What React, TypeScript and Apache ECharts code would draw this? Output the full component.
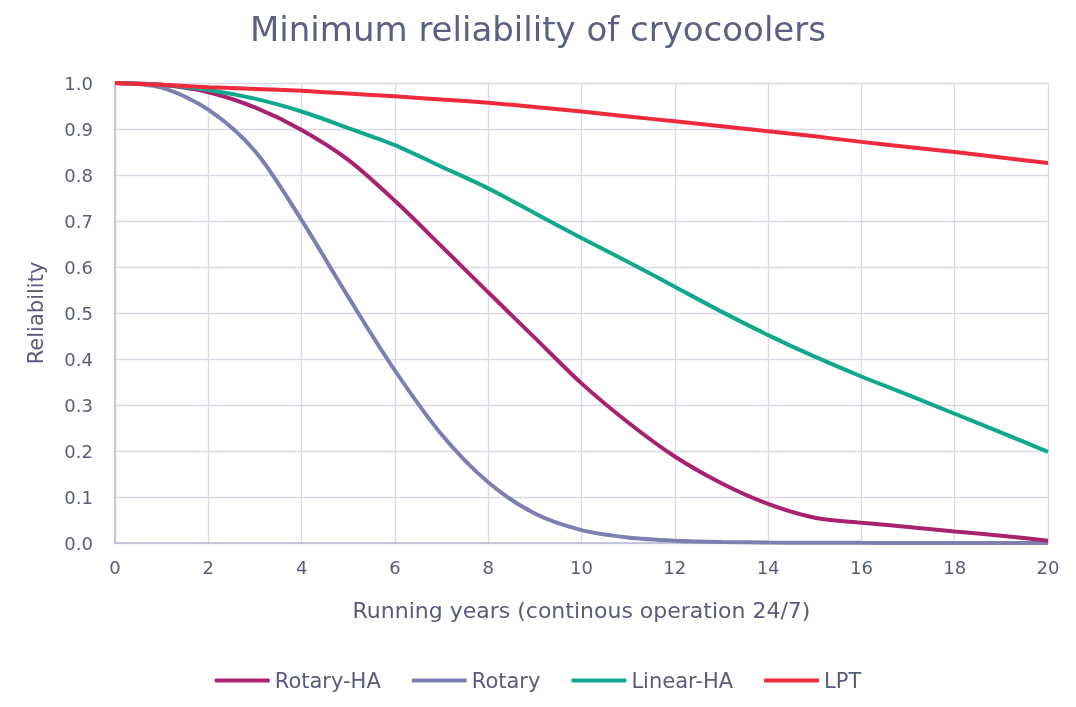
import React, { useEffect, useRef } from "react";
import * as echarts from "echarts";

const years = [0, 1, 2, 3, 4, 5, 6, 7, 8, 9, 10, 11, 12, 13, 14, 15, 16, 17, 18, 19, 20];
const seriesNames = ["Rotary-HA", "Rotary", "Linear-HA", "LPT"];
const rotaryHA = [1.0, 0.996, 0.98, 0.947, 0.898, 0.833, 0.744, 0.645, 0.545, 0.446, 0.347, 0.262, 0.188, 0.13, 0.085, 0.055, 0.044, 0.035, 0.025, 0.016, 0.005];
const rotary = [1.0, 0.99, 0.942, 0.852, 0.702, 0.535, 0.375, 0.236, 0.132, 0.064, 0.028, 0.012, 0.005, 0.002, 0.001, 0.0005, 0.0003, 0.0002, 0.0001, 0.0001, 0.0];
const linearHA = [1.0, 0.996, 0.985, 0.966, 0.938, 0.902, 0.865, 0.818, 0.771, 0.717, 0.663, 0.611, 0.557, 0.503, 0.452, 0.405, 0.362, 0.322, 0.281, 0.24, 0.198];
const lpt = [1.0, 0.996, 0.991, 0.987, 0.983, 0.977, 0.971, 0.964, 0.957, 0.948, 0.938, 0.927, 0.917, 0.906, 0.895, 0.884, 0.872, 0.861, 0.85, 0.838, 0.826];
const colors = ["#a8226f", "#7c7fb0", "#10a88a", "#ee2a3c"];
const xTicks = [0, 2, 4, 6, 8, 10, 12, 14, 16, 18, 20];
const yTicks = ["0.0", "0.1", "0.2", "0.3", "0.4", "0.5", "0.6", "0.7", "0.8", "0.9", "1.0"];

const textColor = "#575d7c";
const FONT = "'DejaVu Sans', sans-serif";

export default function App() {
  const ref = useRef<HTMLDivElement>(null);
  useEffect(() => {
    if (!ref.current) return;
    const chart = echarts.init(ref.current, undefined, { renderer: "svg" });
    const allData = [rotaryHA, rotary, linearHA, lpt];
    chart.setOption({
      animation: false,
      textStyle: { fontFamily: FONT, color: textColor },
      title: {
        text: "Minimum reliability of cryocoolers",
        left: "center",
        top: 7,
        textStyle: { fontFamily: FONT, fontSize: 34, fontWeight: "normal", color: "#5b6181" },
      },
      legend: {
        data: seriesNames,
        bottom: 11,
        left: "center",
        itemWidth: 55,
        itemHeight: 4,
        itemGap: 31,
        icon: "roundRect",
        textStyle: { fontFamily: FONT, fontSize: 21, color: textColor },
      },
      grid: { left: 115, right: 28, top: 83, bottom: 164, containLabel: false },
      xAxis: {
        type: "value",
        min: 0,
        max: 20,
        interval: 2,
        name: "Running years (continous operation 24/7)",
        nameLocation: "middle",
        nameGap: 56,
        nameTextStyle: { fontFamily: FONT, fontSize: 22, color: textColor },
        axisLine: { show: true, lineStyle: { color: "#b9bcd3", width: 1.5 } },
        axisTick: { show: false },
        axisLabel: {
          fontFamily: FONT,
          fontSize: 18,
          color: textColor,
          margin: 15,
          formatter: (v: number) => (xTicks.includes(v) ? String(v) : ""),
        },
        splitLine: { show: true, lineStyle: { color: "#d9dae6", width: 1.3 } },
      },
      yAxis: {
        type: "value",
        min: 0,
        max: 1,
        interval: 0.1,
        name: "Reliability",
        nameLocation: "middle",
        nameGap: 69,
        nameTextStyle: { fontFamily: FONT, fontSize: 21, color: textColor },
        axisLine: { show: true, lineStyle: { color: "#b9bcd3", width: 1.5 } },
        axisTick: { show: false },
        axisLabel: {
          fontFamily: FONT,
          fontSize: 18,
          color: textColor,
          margin: 22,
          formatter: (v: number) => yTicks[Math.round(v * 10)] ?? "",
        },
        splitLine: { show: true, lineStyle: { color: "#d9dae6", width: 1.3 } },
      },
      series: seriesNames.map((name, i) => ({
        name,
        type: "line",
        smooth: 0.3,
        showSymbol: false,
        symbol: "none",
        z: i === 1 ? 2 : 3,
        lineStyle: { color: colors[i], width: 4 },
        itemStyle: { color: colors[i] },
        data: years.map((y, j) => [y, allData[i][j]]),
      })),
    });
    return () => chart.dispose();
  }, []);
  return (
    <div
      ref={ref}
      style={{ position: "fixed", left: 0, top: 0, width: 1076, height: 707 }}
    />
  );
}
